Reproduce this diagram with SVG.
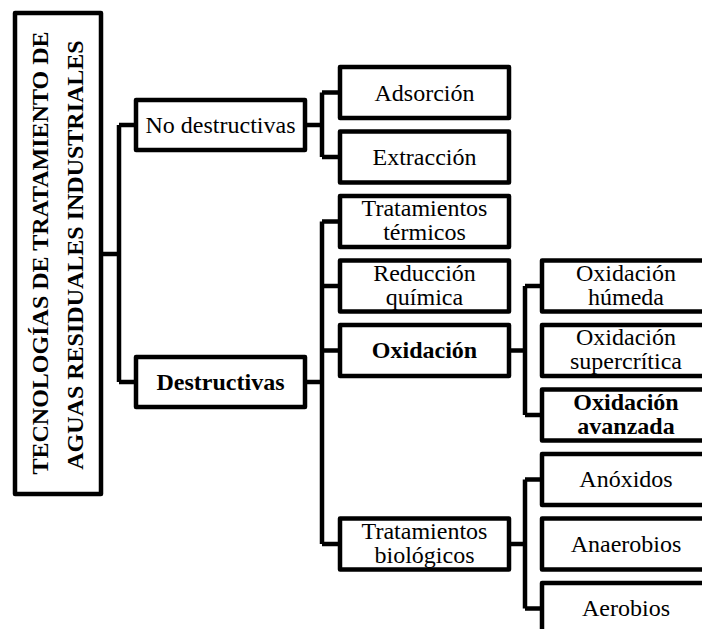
<svg xmlns="http://www.w3.org/2000/svg" width="702" height="629" viewBox="0 0 702 629" font-family="'Liberation Serif', 'Times New Roman', serif">
<style>
.box{fill:#fff;stroke:#000;stroke-width:4.5;stroke-linejoin:round}
.ln{fill:none;stroke:#000;stroke-width:4.5;stroke-linejoin:round}
.t{font-family:"Liberation Serif","Times New Roman",serif;font-size:24px;fill:#000;text-anchor:middle}
.b{font-weight:bold}
</style>
<rect width="702" height="629" fill="#fff"/>
<g id="connectors">
<path class="ln" d="M101,254 H119 M119,125 V382 M119,125 H136 M119,382 H136"/>
<path class="ln" d="M305,125 H322 M322,92.5 V157 M322,92.5 H340 M322,157 H340"/>
<path class="ln" d="M305,382 H322 M322,221.5 V544 M322,221.5 H340 M322,286 H340 M322,350.5 H340 M322,544 H340"/>
<path class="ln" d="M509,350.5 H525 M525,286 V415 M525,286 H542 M525,415 H542"/>
<path class="ln" d="M509,544 H525 M525,479.5 V608.5 M525,479.5 H542 M525,608.5 H542"/>
</g>
<g id="root">
<rect class="box" x="15" y="13" width="86" height="481"/>
<text class="t b" transform="translate(48,253) rotate(-90)">TECNOLOGÍAS DE TRATAMIENTO DE</text>
<text class="t b" transform="translate(83,255) rotate(-90)">AGUAS RESIDUALES INDUSTRIALES</text>
</g>
<g id="no-destructivas">
<rect class="box" x="136" y="100" width="169" height="50"/>
<text class="t" x="220.5" y="133">No destructivas</text>
</g>
<g id="destructivas">
<rect class="box" x="136" y="357" width="169" height="50"/>
<text class="t b" x="220.5" y="390">Destructivas</text>
</g>
<g id="adsorcion">
<rect class="box" x="340" y="67" width="169" height="51"/>
<text class="t" x="424.5" y="100.5">Adsorción</text>
</g>
<g id="extraccion">
<rect class="box" x="340" y="131.5" width="169" height="51"/>
<text class="t" x="424.5" y="165">Extracción</text>
</g>
<g id="termicos">
<rect class="box" x="340" y="196" width="169" height="51"/>
<text class="t" x="424.5" y="216">Tratamientos</text>
<text class="t" x="424.5" y="240">térmicos</text>
</g>
<g id="reduccion">
<rect class="box" x="340" y="260.5" width="169" height="51"/>
<text class="t" x="424.5" y="280.5">Reducción</text>
<text class="t" x="424.5" y="304.5">química</text>
</g>
<g id="oxidacion">
<rect class="box" x="340" y="325" width="169" height="51"/>
<text class="t b" x="424.5" y="358">Oxidación</text>
</g>
<g id="biologicos">
<rect class="box" x="340" y="518.5" width="169" height="51"/>
<text class="t" x="424.5" y="538.5">Tratamientos</text>
<text class="t" x="424.5" y="562.5">biológicos</text>
</g>
<g id="humeda">
<rect class="box" x="542" y="260.5" width="168" height="51"/>
<text class="t" x="626" y="280.5">Oxidación</text>
<text class="t" x="626" y="304.5">húmeda</text>
</g>
<g id="supercritica">
<rect class="box" x="542" y="325" width="168" height="51"/>
<text class="t" x="626" y="345">Oxidación</text>
<text class="t" x="626" y="369">supercrítica</text>
</g>
<g id="avanzada">
<rect class="box" x="542" y="389.5" width="168" height="51"/>
<text class="t b" x="626" y="409.5">Oxidación</text>
<text class="t b" x="626" y="433.5">avanzada</text>
</g>
<g id="anoxidos">
<rect class="box" x="542" y="454" width="168" height="51"/>
<text class="t" x="626" y="487">Anóxidos</text>
</g>
<g id="anaerobios">
<rect class="box" x="542" y="518.5" width="168" height="51"/>
<text class="t" x="626" y="551.5">Anaerobios</text>
</g>
<g id="aerobios">
<rect class="box" x="542" y="583" width="168" height="51"/>
<text class="t" x="626" y="616">Aerobios</text>
</g>
</svg>
